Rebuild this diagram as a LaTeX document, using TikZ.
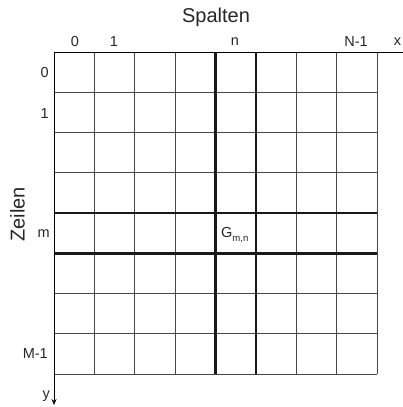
\documentclass[tikz,border=0pt]{standalone}
\usepackage{fontspec}
\setmainfont{Liberation Sans}
\usetikzlibrary{arrows.meta}
\begin{document}
\begin{tikzpicture}[x=1pt,y=-1pt,
  thingrid/.style={draw=black!72,line width=0.8pt},
  thickgrid/.style={draw=black!90,line width=2.6pt},
  axis/.style={draw=black,line width=0.8pt},
  lab/.style={font=\fontsize{14.5}{16}\selectfont,text=black!85,inner sep=0pt},
  biglab/.style={font=\fontsize{20}{23}\selectfont,text=black!85,inner sep=0pt}]
\useasboundingbox (0,0) rectangle (403,407);
% thin grid lines
\foreach \i in {1,2,3,6,7,8}
  \draw[thingrid] ({54+40.375*\i},52) -- ({54+40.375*\i},374);
\foreach \j in {1,2,3,6,7,8}
  \draw[thingrid] (54,{52+40.25*\j}) -- (377,{52+40.25*\j});
% thick lines
\foreach \i in {4,5}
  \draw[thickgrid] ({54+40.375*\i},52) -- ({54+40.375*\i},374);
\foreach \j in {4,5}
  \draw[thickgrid] (54,{52+40.25*\j}) -- (377,{52+40.25*\j});
% axes
\coordinate (O) at (54,52);
\coordinate (xend) at (404,52);
\coordinate (yend) at (54,405);
\draw[axis] (O) -- (xend);
\draw[axis,-{Stealth[length=6pt,width=5pt]}] (O) -- (yend);
% titles
\node[biglab] (spalten) at (216,17) {Spalten};
\node[biglab,rotate=90] (zeilen) at (17.5,214.5) {Zeilen};
% column labels
\node[lab] (c0) at (75,42) {0};
\node[lab] (c1) at (114,42) {1};
\node[lab] (cn) at (235,42) {n};
\node[lab] (cN) at (356,42) {N-1};
\node[lab] (cx) at (397.5,42) {x};
% row labels
\node[lab,anchor=east] (r0) at (49,73) {0};
\node[lab,anchor=east] (r1) at (49,114) {1};
\node[lab,anchor=east] (rm) at (50,234) {m};
\node[lab,anchor=east] (rM) at (48,354) {M-1};
\node[lab,anchor=east] (ry) at (50,396) {y};
% cell label
\node[lab,anchor=west] (g) at (221,235) {G\raisebox{-0.45ex}{\fontsize{9.6}{11}\selectfont m,n}};
\end{tikzpicture}
\end{document}
